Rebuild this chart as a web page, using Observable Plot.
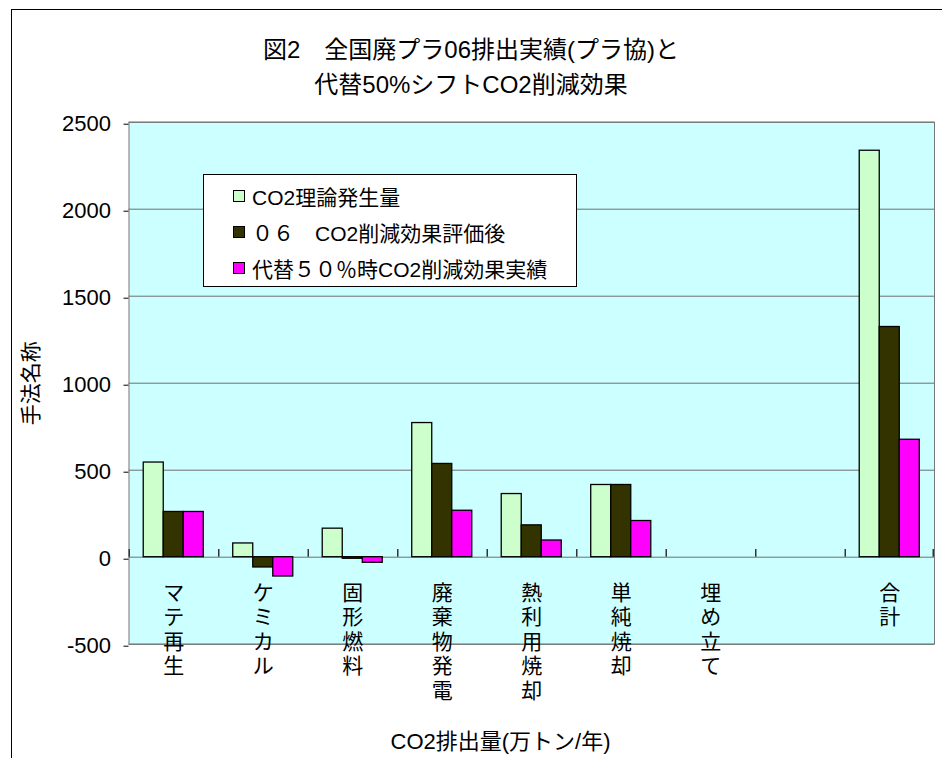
<!DOCTYPE html>
<html>
<head>
<meta charset="utf-8">
<script src="https://cdn.jsdelivr.net/npm/d3@7"></script>
<script src="https://cdn.jsdelivr.net/npm/@observablehq/plot@0.6"></script>
<style>
  body { margin: 0; background: #fff; }
  #wrap { position: relative; width: 942px; height: 758px; overflow: hidden; background: #fff;
          font-family: "Liberation Sans", "Noto Sans CJK JP", sans-serif; color: #000; }
  #border { position: absolute; left: 11px; top: 9px; width: 1000px; height: 900px;
            border-left: 1px solid #000; border-top: 1px solid #000; pointer-events: none; }
  #title { position: relative; height: 100px; box-sizing: border-box; padding-top: 31.5px;
           text-align: center; font-size: 24px; line-height: 35px; }
  #legend { position: absolute; left: 203px; top: 174px; width: 374px; height: 113px; box-sizing: border-box;
            background: #fff; border: 1px solid #000; padding-top: 3px; font-size: 21px; }
  .row { height: 36px; display: flex; align-items: center; padding-left: 29px; white-space: nowrap; }
  .sw { width: 10px; height: 10px; border: 1px solid #000; margin-right: 7px; flex: none; }
</style>
</head>
<body>
<div id="wrap">
  <div id="border"></div>
  <div id="title"></div>
  <div id="chart"></div>
  <div id="legend"></div>
</div>
<script>
// ---- data ----
const titleLines = ["図2　全国廃プラ06排出実績(プラ協)と", "代替50%シフトCO2削減効果"];
const categories = ["マテ再生", "ケミカル", "固形燃料", "廃棄物発電", "熱利用焼却", "単純焼却", "埋め立て", " ", "合計"];
const seriesNames = ["CO2理論発生量", "０６　CO2削減効果評価後", "代替５０％時CO2削減効果実績"];
const seriesColors = ["#CCFFCC", "#333300", "#FF00FF"];
const theory = [544, 79, 164, 771, 363, 415, 0, null, 2336];
const after06 = [260, -59, -9, 536, 183, 415, 0, null, 1323];
const alt50 = [260, -111, -32, 267, 96, 208, 0, null, 675];
const yTicks = [-500, 0, 500, 1000, 1500, 2000, 2500];
const yLabel = "手法名称";
const xLabel = "CO2排出量(万トン/年)";

// ---- build ----
document.getElementById("title").innerHTML = titleLines.map(t => `<div>${t}</div>`).join("");
document.getElementById("legend").innerHTML = seriesNames.map((n, i) =>
  `<div class="row"><span class="sw" style="background:${seriesColors[i]}"></span>${n}</div>`).join("");

const allSeries = [theory, after06, alt50];
const rows = allSeries.map((vals, s) => categories.map((c, i) => ({category: c, series: s, value: vals[i]})));

const W = 942, H = 658;
const mL = 128.5, mR = 8, mT = 21.7, mB = 114.3;
const bw = (W - mL - mR) / categories.length;
const barW = bw * 0.2236;
const pad = (bw - 3 * barW) / 2;

const font = "'Liberation Sans', 'Noto Sans CJK JP', sans-serif";

const chart = Plot.plot({
  width: W, height: H,
  marginTop: mT, marginBottom: mB, marginLeft: mL, marginRight: mR,
  x: {domain: categories, padding: 0, round: false, axis: null},
  y: {domain: [-500, 2500], axis: null},
  style: {fontFamily: font, fontSize: "21px", background: "transparent", overflow: "visible"},
  marks: [
    Plot.frame({fill: "#CCFFFF", stroke: "#777"}),
    Plot.ruleY(yTicks, {stroke: "#6e6e6e", strokeWidth: 1}),
    ...rows.map((data, s) => Plot.barY(data, {
      filter: d => d.value != null && d.value !== 0,
      x: "category", y: "value",
      fill: seriesColors[s], stroke: "#000", strokeWidth: 1.3,
      insetLeft: pad + s * barW, insetRight: bw - pad - (s + 1) * barW
    })),
    // category boundary tick marks (left edge of each band, plus the right edge of the last)
    Plot.barY(categories, {x: d => d, y1: 0, y2: 44, insetLeft: 0, insetRight: bw - 1.5, fill: "#333"}),
    Plot.barY([categories[categories.length - 1]], {x: d => d, y1: 0, y2: 44, insetLeft: bw - 1.5, insetRight: 0, fill: "#333"}),
    Plot.axisY({ticks: yTicks, tickSize: 5, tickPadding: 13, fontSize: 22, tickFormat: d => `${d}`, label: null, dy: 2}),
    Plot.text(categories, {
      x: d => d, y: () => 0, text: d => d.trim().split("").join("\n"),
      lineAnchor: "top", lineHeight: 1.17, dy: 25, fontSize: 21, fill: "#000"
    }),
    Plot.text([yLabel], {frameAnchor: "left", rotate: -90, textAnchor: "middle", lineAnchor: "middle", dx: -97.5, fontSize: 21}),
    Plot.text([xLabel], {frameAnchor: "bottom", textAnchor: "middle", lineAnchor: "middle", dx: 500 - (mL + (W - mR)) / 2, dy: 97.8, fontSize: 22})
  ]
});
document.getElementById("chart").appendChild(chart);
</script>
</body>
</html>
